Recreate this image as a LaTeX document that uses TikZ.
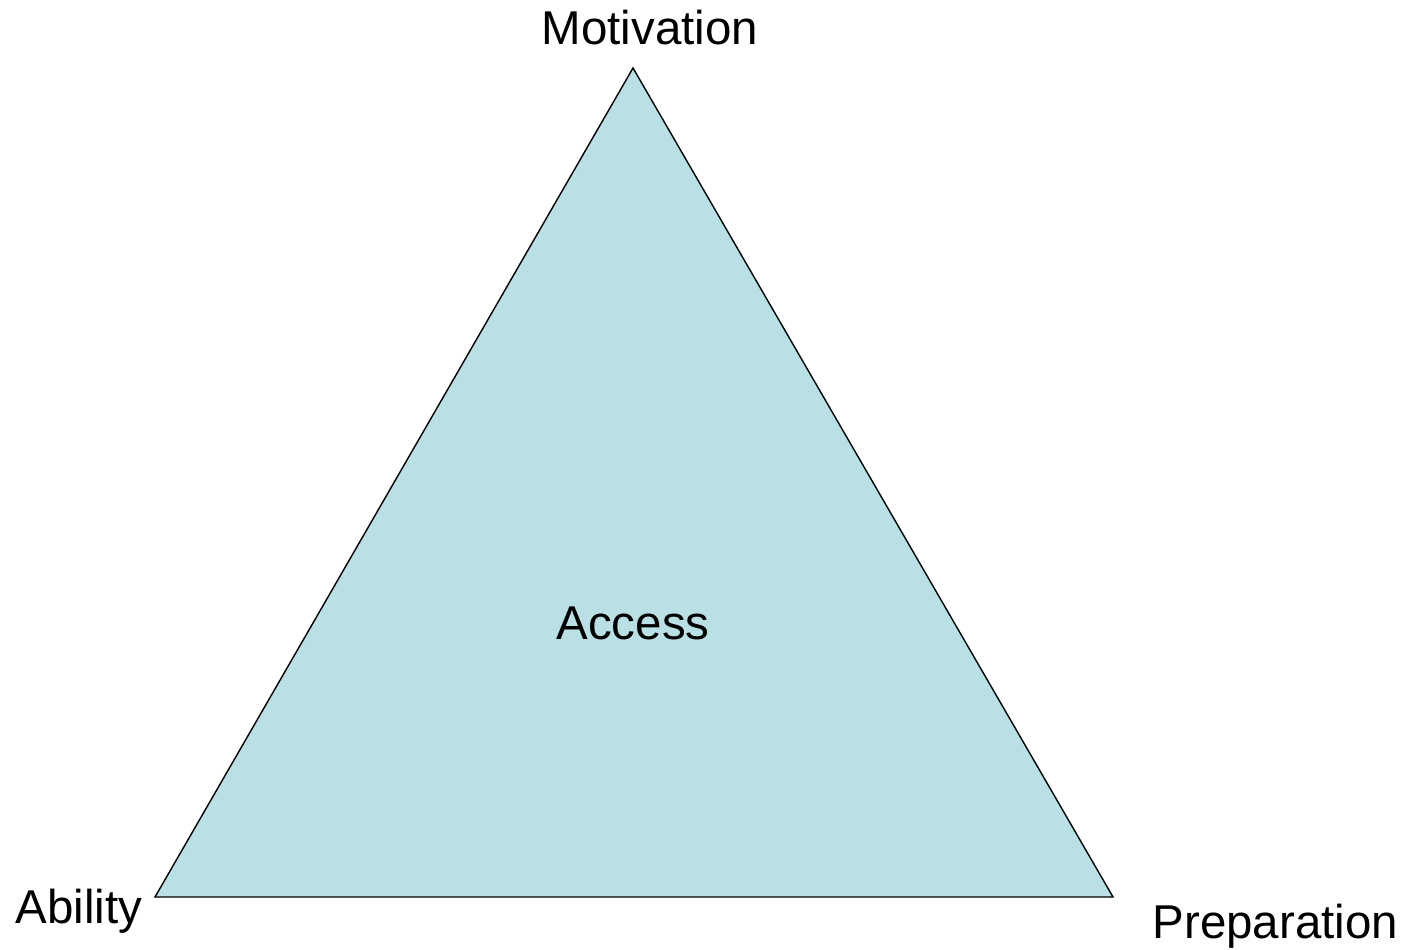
\documentclass[tikz,border=0pt]{standalone}
\usepackage{fontspec}
\setmainfont{Liberation Sans}
\usepackage{xcolor}
\usepackage{tikz}
\definecolor{accessfill}{RGB}{185,224,228}

\begin{document}
\begin{tikzpicture}
[
x=0.01cm, y=-0.01cm,
word/.style={inner sep=0pt,font=\fontsize{13.5}{16}\selectfont},
]
\useasboundingbox (0,0) rectangle (1407,949);

%Place the corners
\coordinate (mot) at (633,68);		%top = motivation
\coordinate (abl) at (155,897);		%left = ability
\coordinate (prep) at (1113,897);	%right = preparation

%triangle
\filldraw[fill=accessfill,draw=black,line width=0.4pt,line join=miter] (mot) -- (abl) -- (prep) -- cycle;

%labels
\node[word,anchor=base] (motlabel) at (650,45) {Motivation};
\node[word,anchor=base west] (abllabel) at (15,923) {Ability};
\node[word,anchor=base west] (preplabel) at (1152,938) {Preparation};
\node[word,anchor=base] (acclabel) at (633,639) {Access};
\end{tikzpicture}
\end{document}
